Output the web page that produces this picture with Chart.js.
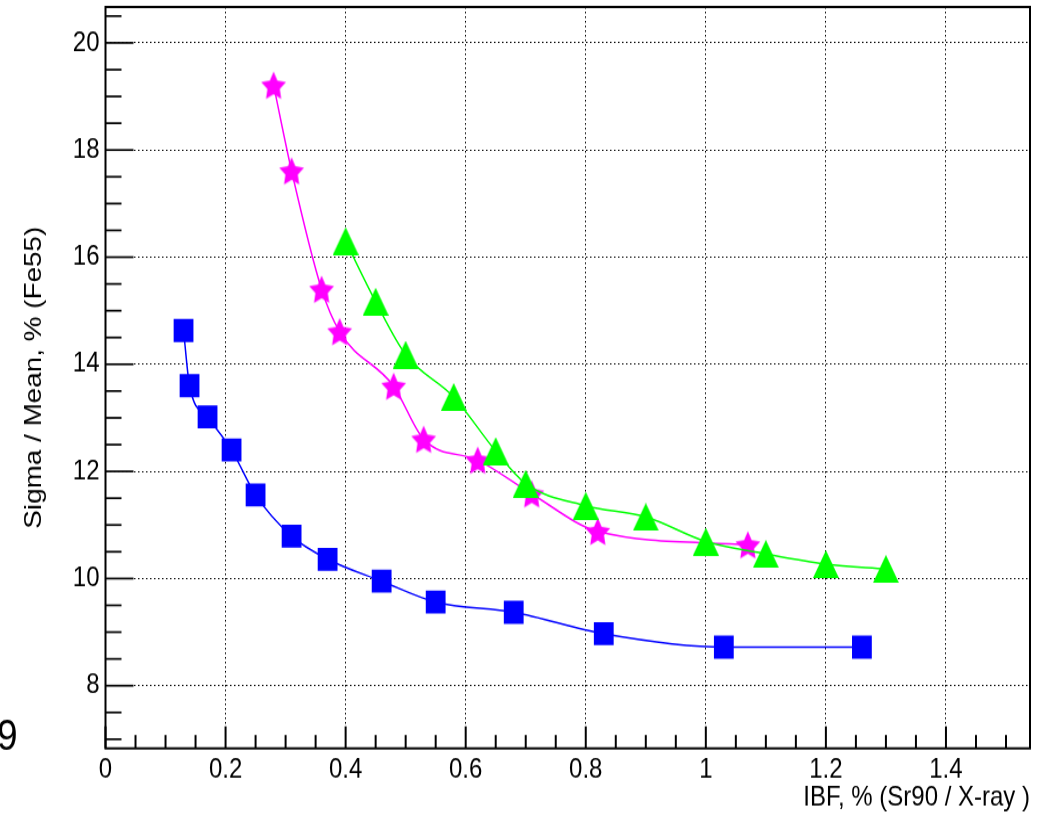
<!DOCTYPE html>
<html>
<head>
<meta charset="utf-8">
<script src="https://cdn.jsdelivr.net/npm/chart.js@4.4.1/dist/chart.umd.min.js"></script>
<style>
  html, body { margin: 0; padding: 0; background: #fff; }
  #outer { width: 1046px; height: 816px; overflow: hidden; }
  /* the original picture is stretched vertically, so draw at 703 px and scale up to 816 */
  #wrap { width: 1046px; height: 703px; transform: scaleY(1.16074); transform-origin: 0 0; }
</style>
</head>
<body>
<div id="outer"><div id="wrap"><canvas id="myChart" width="1046" height="703"></canvas></div></div>
<script>
//data
var blueX = [0.13, 0.14, 0.17, 0.21, 0.25, 0.31, 0.37, 0.46, 0.55, 0.68, 0.83, 1.03, 1.26];
var blueY = [14.63, 13.6, 13.02, 12.4, 11.56, 10.79, 10.36, 9.95, 9.56, 9.37, 8.97, 8.72, 8.72];

var magentaX = [0.28, 0.31, 0.36, 0.39, 0.48, 0.53, 0.62, 0.71, 0.82, 1.07];
var magentaY = [19.21, 17.61, 15.4, 14.61, 13.59, 12.6, 12.21, 11.58, 10.88, 10.63];

var greenX = [0.40, 0.45, 0.50, 0.58, 0.65, 0.70, 0.80, 0.90, 1.00, 1.10, 1.20, 1.30];
var greenY = [16.3, 15.17, 14.18, 13.39, 12.38, 11.77, 11.36, 11.15, 10.69, 10.46, 10.27, 10.18];

var xTicks = [0, 0.2, 0.4, 0.6, 0.8, 1, 1.2, 1.4];
var yTicks = [8, 10, 12, 14, 16, 18, 20];
var xTitle = "IBF, % (Sr90 / X-ray )";
var yTitle = "Sigma / Mean, % (Fe55)";

var FONT = "'Liberation Sans', Arial, sans-serif";

function toPoints(xs, ys) {
  return xs.map(function (x, i) { return { x: x, y: ys[i] }; });
}

//markers
function makeTriangle(color) {
  var c = document.createElement('canvas');
  c.width = 26; c.height = 24;
  var g = c.getContext('2d');
  g.fillStyle = color;
  g.beginPath();
  g.moveTo(13, 0); g.lineTo(26, 24); g.lineTo(0, 24);
  g.closePath();
  g.fill();
  return c;
}

function makeStar(color, r) {
  var c = document.createElement('canvas');
  var size = Math.ceil(2 * r) + 2;
  c.width = size; c.height = size;
  var g = c.getContext('2d');
  var cx = size / 2, cy = size / 2 + 0.095 * r;
  g.fillStyle = color;
  g.beginPath();
  for (var i = 0; i < 10; i++) {
    var a = -Math.PI / 2 + i * Math.PI / 5;
    var rr = i % 2 ? r * 0.5 : r;
    var px = cx + Math.cos(a) * rr, py = cy + Math.sin(a) * rr;
    if (i === 0) g.moveTo(px, py); else g.lineTo(px, py);
  }
  g.closePath();
  g.fill();
  return c;
}

//frame, inner ticks and the cut "9"
var framePlugin = {
  id: 'frame',
  afterDraw: function (chart) {
    var ctx = chart.ctx, a = chart.chartArea;
    var x = chart.scales.x, y = chart.scales.y;
    ctx.save();
    ctx.strokeStyle = '#000';
    ctx.lineWidth = 2;
    for (var i = 0; i * 0.05 <= x.max + 1e-9; i++) {
      var px = x.getPixelForValue(i * 0.05);
      var len = i % 4 === 0 ? 19 : 11.5;
      ctx.beginPath(); ctx.moveTo(px, a.bottom); ctx.lineTo(px, a.bottom - len); ctx.stroke();
    }
    ctx.lineWidth = 1.7;
    for (var j = 14; j * 0.5 <= y.max; j++) {
      var py = y.getPixelForValue(j * 0.5);
      var l2 = j % 4 === 0 ? 28 : 16;
      ctx.beginPath(); ctx.moveTo(a.left, py); ctx.lineTo(a.left + l2, py); ctx.stroke();
    }
    ctx.lineWidth = 2;
    ctx.strokeRect(a.left, a.top, a.right - a.left, a.bottom - a.top);
    ctx.fillStyle = '#000';
    ctx.font = '37px ' + FONT;
    ctx.textBaseline = 'alphabetic';
    ctx.fillText('9', -3, 646);
    ctx.restore();
  }
};

var config = {
  type: 'line',
  data: {
    datasets: [
      {
        label: 'green',
        data: toPoints(greenX, greenY),
        borderColor: '#00ff00',
        backgroundColor: '#00ff00',
        borderWidth: 1.5,
        pointStyle: makeTriangle('#00ff00'),
        cubicInterpolationMode: 'monotone',
        order: 0
      },
      {
        label: 'magenta',
        data: toPoints(magentaX, magentaY),
        borderColor: '#ff00ff',
        backgroundColor: '#ff00ff',
        borderWidth: 1.5,
        pointStyle: makeStar('#ff00ff', 13),
        cubicInterpolationMode: 'monotone',
        order: 1
      },
      {
        label: 'blue',
        data: toPoints(blueX, blueY),
        borderColor: '#0000ff',
        backgroundColor: '#0000ff',
        borderWidth: 1.5,
        pointStyle: 'rect',
        pointRadius: 14,
        pointBorderWidth: 0,
        cubicInterpolationMode: 'monotone',
        order: 2
      }
    ]
  },
  options: {
    responsive: false,
    animation: false,
    layout: { autoPadding: false, padding: { top: 6, right: 16, left: 0, bottom: 0 } },
    plugins: { legend: { display: false }, tooltip: { enabled: false } },
    scales: {
      x: {
        type: 'linear',
        min: 0,
        max: 1.54,
        afterFit: function (s) { s.height = 58.3; s.paddingLeft = 0; s.paddingRight = 0; },
        afterBuildTicks: function (s) { s.ticks = xTicks.map(function (v) { return { value: v }; }); },
        grid: { color: '#000', lineWidth: 1, drawTicks: false },
        border: { display: false, dash: [1.5, 2.5] },
        ticks: {
          padding: 4,
          color: '#000',
          font: { family: FONT, size: 24 },
          maxRotation: 0,
          callback: function (v) { return String(v); }
        },
        title: {
          display: true,
          text: xTitle,
          align: 'end',
          color: '#000',
          font: { family: FONT, size: 24 },
          padding: { top: 0, bottom: 1 }
        }
      },
      y: {
        type: 'linear',
        min: 6.83,
        max: 20.67,
        afterFit: function (s) { s.width = 105.5; s.paddingTop = 0; s.paddingBottom = 0; },
        afterBuildTicks: function (s) { s.ticks = yTicks.map(function (v) { return { value: v }; }); },
        grid: { color: '#000', lineWidth: 1, drawTicks: false },
        border: { display: false, dash: [1.5, 2.5] },
        ticks: {
          padding: 6,
          color: '#000',
          font: { family: FONT, size: 24 },
          callback: function (v) { return String(v); }
        },
        title: {
          display: true,
          text: yTitle,
          color: '#000',
          font: { family: FONT, size: 24 },
          padding: { top: 20, bottom: 0 }
        }
      }
    }
  },
  plugins: [framePlugin]
};

var myChart = document.getElementById('myChart');
new Chart(myChart, config);
</script>
</body>
</html>
